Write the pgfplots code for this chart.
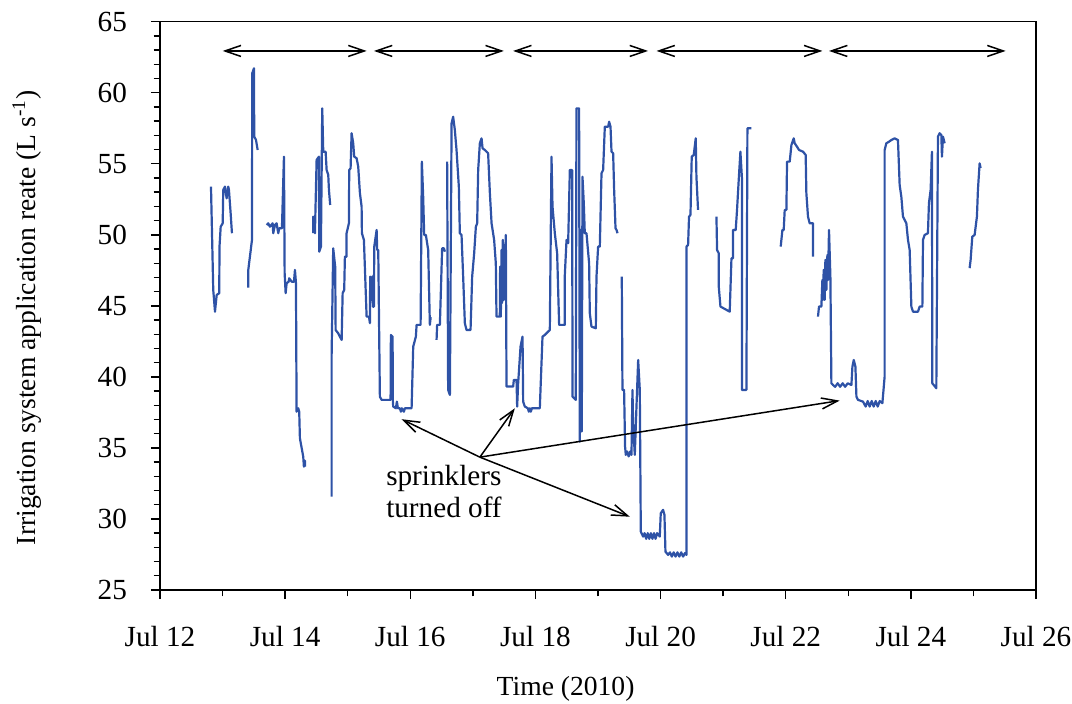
\documentclass[border=0pt]{standalone}
\usepackage{fontspec}
\setmainfont{Liberation Serif}
\usepackage{pgfplots}
\pgfplotsset{compat=1.18}
\usetikzlibrary{arrows.meta}
\definecolor{dataBlue}{RGB}{46,82,166}
\tikzset{dat/.style={color=dataBlue, line width=1.1pt, line join=round, mark=none, solid}}
\begin{document}
\begin{tikzpicture}
\useasboundingbox (-80pt,-57pt) rectangle (456pt,295pt);
\begin{axis}[
  scale only axis, width=438pt, height=284.15pt,
  xmin=0, xmax=14, ymin=25, ymax=65,
  xtick={0,2,...,14},
  xticklabels={Jul 12,Jul 14,Jul 16,Jul 18,Jul 20,Jul 22,Jul 24,Jul 26},
  minor xtick={1,3,...,13},
  ytick={25,30,...,65},
  minor ytick={26,27,...,64},
  tick align=outside, xtick pos=bottom, ytick pos=left,
  major tick length=4.6pt, minor tick length=3.2pt,
  every tick/.append style={black, line width=0.7pt},
  axis line style={line width=0.75pt},
  /pgf/number format/assume math mode=true,
  ticklabel style={font=\fontsize{14.6}{17}\selectfont},
  xticklabel style={yshift=-10pt},
  yticklabel style={xshift=-8.4pt},
  label style={font=\fontsize{13.8}{16}\selectfont},
  xlabel={Time (2010)},
  ylabel={Irrigation system application reate (L s\textsuperscript{-1})},
  xlabel style={at={(axis description cs:0.463,-0.1742)}, anchor=center},
  ylabel style={at={(axis description cs:-0.1518,0.479)}, anchor=center},
]
\addplot[dat] coordinates {(0.815,53.39) (0.851,46.12) (0.879,44.59) (0.906,45.77) (0.947,45.89) (0.951,49.17) (0.970,50.57) (1.002,50.81) (1.011,53.16) (1.038,53.39) (1.065,52.57) (1.091,53.39) (1.102,53.16) (1.129,51.51) (1.150,50.11)};
\addplot[dat] coordinates {(1.411,46.28) (1.411,47.53) (1.470,49.64) (1.474,61.37) (1.502,61.72) (1.506,56.91) (1.534,56.68) (1.561,55.97)};
\addplot[dat] coordinates {(1.704,50.69) (1.730,50.81) (1.757,50.57) (1.800,50.81) (1.810,50.11) (1.837,50.69) (1.864,50.81) (1.890,50.11) (1.906,50.46) (1.949,50.46) (1.981,55.50) (1.992,47.29) (2.008,45.89) (2.024,46.59) (2.056,46.70) (2.065,46.94) (2.104,46.70) (2.141,46.70) (2.157,47.53) (2.173,46.59) (2.183,37.55) (2.209,37.79) (2.225,37.55) (2.236,35.68) (2.289,34.39) (2.300,33.68) (2.316,34.10) (2.316,33.68)};
\addplot[dat] coordinates {(2.449,50.11) (2.449,51.28) (2.476,50.11) (2.503,55.27) (2.540,55.50) (2.545,48.81) (2.572,49.17) (2.593,58.90) (2.609,55.85) (2.647,55.85) (2.663,54.56) (2.689,54.21) (2.700,53.16) (2.720,52.10)};
\addplot[dat] coordinates {(2.743,31.57) (2.743,41.55) (2.768,49.05) (2.800,47.76) (2.807,43.30) (2.848,43.07) (2.875,42.83) (2.903,42.60) (2.919,45.89) (2.944,46.12) (2.955,48.46) (2.982,48.46) (2.982,50.11) (3.019,50.81) (3.024,54.56) (3.046,54.68) (3.062,57.15) (3.088,56.44) (3.104,55.50) (3.142,55.39) (3.168,54.80) (3.195,52.93) (3.222,51.98) (3.227,50.11) (3.259,49.64) (3.302,44.24) (3.339,44.24) (3.355,43.78) (3.359,47.06) (3.382,45.42) (3.392,47.06) (3.403,44.94) (3.419,44.94) (3.424,49.17) (3.462,50.34) (3.471,48.93) (3.488,48.93) (3.514,38.61) (3.542,38.38) (3.685,38.38) (3.690,42.95) (3.717,42.83) (3.722,38.26) (3.727,37.91) (3.770,37.79) (3.786,38.26) (3.802,37.79) (3.834,37.79) (3.850,37.55) (3.866,37.79) (3.898,37.55) (3.914,37.79) (4.021,37.79) (4.047,42.13) (4.089,42.83) (4.101,43.66) (4.165,43.66) (4.185,55.15) (4.206,52.68) (4.222,49.99) (4.249,49.99) (4.286,48.93) (4.313,43.66) (4.324,44.13) (4.340,44.13)};
\addplot[dat] coordinates {(4.420,42.60) (4.429,43.66) (4.473,43.66) (4.509,49.05) (4.537,49.05) (4.553,48.81)};
\addplot[dat] coordinates {(4.589,55.15) (4.605,39.08) (4.633,38.73) (4.660,57.85) (4.685,58.31) (4.712,57.38) (4.739,55.97) (4.776,53.39) (4.792,50.11) (4.819,49.99) (4.845,47.06) (4.872,43.78) (4.899,43.30) (4.963,43.30) (4.989,47.06) (5.021,48.70) (5.048,50.57) (5.069,50.81) (5.085,54.56) (5.112,56.44) (5.139,56.79) (5.155,56.09) (5.192,55.97) (5.219,55.85) (5.244,55.74) (5.272,52.93) (5.299,50.81) (5.340,49.64) (5.367,47.99) (5.378,44.24) (5.431,44.24) (5.436,47.76) (5.447,44.24) (5.458,48.93) (5.468,45.21) (5.479,49.64) (5.495,45.42) (5.527,49.99) (5.538,39.32) (5.644,39.32) (5.655,39.79) (5.698,39.79) (5.708,37.91) (5.724,39.55) (5.762,42.13) (5.794,42.83) (5.804,38.26) (5.831,37.91) (5.879,37.79) (5.895,37.55) (5.911,37.79) (5.927,37.55) (5.942,37.79) (6.070,37.79) (6.113,42.83) (6.150,42.95) (6.230,43.30) (6.257,55.50) (6.273,51.98) (6.310,50.11) (6.347,48.70) (6.379,43.66) (6.470,43.66) (6.470,47.18) (6.497,49.64) (6.523,49.41) (6.550,54.56) (6.587,54.56) (6.593,38.61) (6.645,38.38) (6.656,58.90) (6.698,58.90) (6.709,35.44) (6.720,50.34) (6.741,50.34) (6.741,36.15) (6.752,54.09) (6.773,52.22) (6.789,50.11) (6.816,50.11) (6.858,47.99) (6.869,44.48) (6.896,43.54) (6.965,43.42) (6.976,47.06) (7.002,49.17) (7.029,49.17) (7.040,51.28) (7.056,54.33) (7.082,54.56) (7.109,57.61) (7.162,57.61) (7.178,57.96) (7.200,57.61) (7.216,55.85) (7.242,55.74) (7.258,53.16) (7.280,50.46) (7.296,50.34) (7.312,50.11)};
\addplot[dat] coordinates {(7.380,47.06) (7.391,39.08) (7.417,39.08) (7.433,35.09) (7.444,34.51) (7.465,34.75) (7.490,34.40) (7.515,34.75) (7.535,34.51) (7.551,39.08) (7.561,36.74) (7.588,34.51) (7.615,37.91) (7.642,41.19) (7.668,39.08) (7.684,29.11) (7.721,28.76) (7.745,29.00) (7.770,28.60) (7.795,29.00) (7.820,28.60) (7.845,29.00) (7.870,28.60) (7.895,29.00) (7.920,28.60) (7.945,29.00) (7.987,28.76) (8.003,30.40) (8.040,30.64) (8.062,30.29) (8.078,27.70) (8.120,27.47) (8.150,27.65) (8.180,27.35) (8.210,27.65) (8.240,27.35) (8.270,27.65) (8.300,27.35) (8.330,27.65) (8.360,27.35) (8.390,27.60) (8.414,27.47) (8.414,49.17) (8.440,49.29) (8.455,51.28) (8.478,51.40) (8.498,55.50) (8.530,55.62) (8.562,56.79) (8.573,54.09) (8.599,51.75)};
\addplot[dat] coordinates {(8.893,51.28) (8.903,48.93) (8.930,48.70) (8.930,46.35) (8.957,44.95) (9.105,44.59) (9.133,48.35) (9.158,48.35) (9.158,50.34) (9.201,50.34) (9.222,51.75) (9.249,53.86) (9.276,55.85) (9.302,53.86) (9.302,39.08) (9.372,39.08) (9.388,57.50) (9.452,57.50)};
\addplot[dat] coordinates {(9.920,49.17) (9.947,50.34) (9.968,50.34) (9.984,51.75) (10.011,51.75) (10.021,55.15) (10.064,55.15) (10.091,56.32) (10.128,56.79) (10.144,56.44) (10.181,56.20) (10.213,55.97) (10.277,55.85) (10.319,55.62) (10.330,52.93) (10.356,51.28) (10.383,50.81) (10.436,50.81) (10.436,48.46)};
\addplot[dat] coordinates {(10.516,44.24) (10.532,44.95) (10.570,44.95) (10.586,46.82) (10.596,45.42) (10.607,47.53) (10.623,45.42) (10.634,48.23) (10.650,46.12) (10.666,48.58) (10.676,46.82) (10.692,50.34) (10.714,47.06) (10.730,39.55) (10.756,39.43) (10.790,39.30) (10.830,39.55) (10.870,39.30) (10.910,39.55) (10.950,39.30) (10.990,39.55) (11.050,39.43) (11.066,40.72) (11.087,41.19) (11.114,40.72) (11.130,38.61) (11.155,38.38) (11.235,38.26) (11.278,37.91) (11.310,38.30) (11.342,37.91) (11.374,38.30) (11.406,37.91) (11.438,38.30) (11.470,37.91) (11.502,38.30) (11.545,38.15) (11.581,40.02) (11.581,55.97) (11.608,56.44) (11.650,56.55) (11.688,56.67) (11.741,56.79) (11.794,56.67) (11.821,53.51) (11.848,52.68) (11.874,51.28) (11.928,50.81) (11.954,49.64) (11.981,48.93) (12.008,44.95) (12.034,44.59) (12.114,44.59) (12.141,44.95) (12.184,44.95) (12.194,49.64) (12.220,49.99) (12.273,50.11) (12.289,52.22) (12.316,53.16) (12.337,55.85) (12.343,39.55) (12.407,39.20) (12.433,56.91) (12.460,57.15) (12.487,57.03) (12.497,55.50) (12.513,56.91) (12.540,56.44)};
\addplot[dat] coordinates {(12.939,47.65) (12.955,48.23) (12.982,49.87) (13.019,49.99) (13.056,51.28) (13.072,53.16) (13.099,55.03) (13.115,54.70)};
% cycle arrows
\draw[{Straight Barb[length=8pt,width=5.5pt]}-{Straight Barb[length=8pt,width=5.5pt]}, line width=0.75pt] (axis cs:1.002,62.94) -- (axis cs:3.302,62.94);
\draw[{Straight Barb[length=8pt,width=5.5pt]}-{Straight Barb[length=8pt,width=5.5pt]}, line width=0.75pt] (axis cs:3.419,62.94) -- (axis cs:5.495,62.94);
\draw[{Straight Barb[length=8pt,width=5.5pt]}-{Straight Barb[length=8pt,width=5.5pt]}, line width=0.75pt] (axis cs:5.644,62.94) -- (axis cs:7.800,62.94);
\draw[{Straight Barb[length=8pt,width=5.5pt]}-{Straight Barb[length=8pt,width=5.5pt]}, line width=0.75pt] (axis cs:7.935,62.94) -- (axis cs:10.586,62.94);
\draw[{Straight Barb[length=8pt,width=5.5pt]}-{Straight Barb[length=8pt,width=5.5pt]}, line width=0.75pt] (axis cs:10.692,62.94) -- (axis cs:13.514,62.94);
% annotation
\draw[-{Straight Barb[length=8pt,width=5.5pt]}, line width=0.75pt] (axis cs:5.112,34.35) -- (axis cs:3.861,37.02);
\draw[-{Straight Barb[length=8pt,width=5.5pt]}, line width=0.75pt] (axis cs:5.112,34.35) -- (axis cs:5.671,37.79);
\draw[-{Straight Barb[length=8pt,width=5.5pt]}, line width=0.75pt] (axis cs:5.112,34.35) -- (axis cs:7.508,30.16);
\draw[-{Straight Barb[length=8pt,width=5.5pt]}, line width=0.75pt] (axis cs:5.112,34.35) -- (axis cs:10.863,38.33);
\node[anchor=north west, inner sep=0pt, align=left, font=\fontsize{14.6}{15.8}\selectfont] at (axis cs:3.610,33.80) {sprinklers\\turned off};
\end{axis}
\end{tikzpicture}
\end{document}
